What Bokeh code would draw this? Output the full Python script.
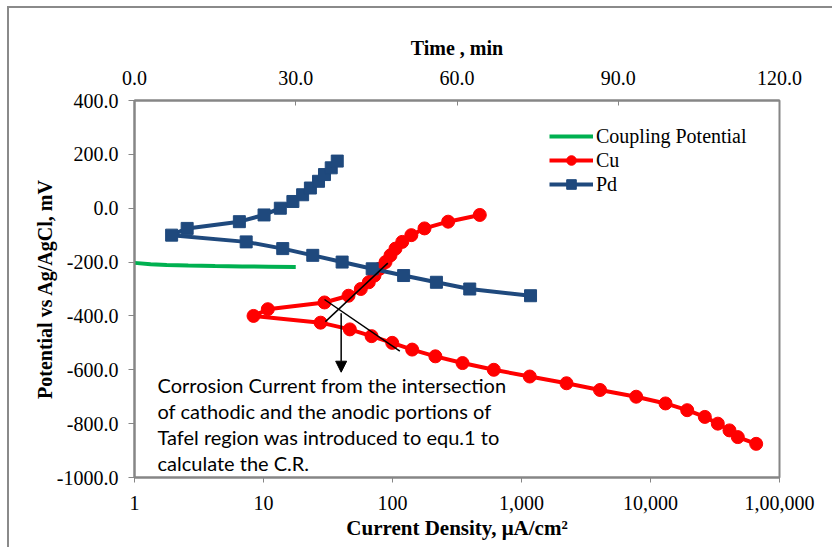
from bokeh.plotting import figure
from bokeh.models import (Range1d, LinearAxis, LinearScale, FixedTicker, Legend, LegendItem,
                          Label, Arrow, NormalHead)
from bokeh.embed import file_html
from bokeh.resources import INLINE

# ---- data ----
time_min = [0, 3, 6, 10, 15, 20, 25, 30]
coupling_mv = [-203, -208, -211, -213, -215, -216, -217, -218]

cu_current = [65950, 47500, 40950, 33250, 26370, 19250, 13070, 7745, 4060, 2233,
              1159, 610, 349, 215, 142, 99.5, 68.8, 46.7, 27.7, 8.37,
              10.8, 29.7, 45.6, 56.8, 65.5, 72.5, 79.3, 88.3, 96.5, 105.5,
              119, 140, 177, 270, 475]
cu_potential = [-875, -850, -825, -800, -775, -750, -725, -700, -675, -650,
                -625, -600, -575, -550, -525, -500, -475, -450, -425, -400,
                -375, -350, -325, -300, -275, -250, -225, -200, -175, -150,
                -125, -100, -75, -50, -25]

pd_current = [1175, 397, 219, 122, 69.6, 40.7, 24.1, 14.1, 7.34, 1.94,
              2.56, 6.5, 10.1, 13.5, 16.9, 20.1, 23.1, 26.7, 29.7, 33.5, 37.3]
pd_potential = [-325, -300, -275, -250, -225, -200, -175, -150, -125, -100,
                -75, -50, -25, 0, 25, 50, 75, 100, 125, 150, 175]

# Tafel extrapolation lines (annotation)
tafel_anodic_x = [30.2, 92]
tafel_anodic_y = [-421, -204]
tafel_cathodic_x = [29.7, 114]
tafel_cathodic_y = [-339, -531]
arrow_x = 40
arrow_y = [-390, -609]

x_ticks = [1, 10, 100, 1000, 10000, 100000]
x_tick_labels = ["1", "10", "100", "1,000", "10,000", "1,00,000"]
y_ticks = [-1000, -800, -600, -400, -200, 0, 200, 400]
y_tick_labels = ["-1000.0", "-800.0", "-600.0", "-400.0", "-200.0", "0.0", "200.0", "400.0"]
t_ticks = [0, 30, 60, 90, 120]
t_tick_labels = ["0.0", "30.0", "60.0", "90.0", "120.0"]

note_lines = ["Corrosion Current from the intersection",
              "of cathodic and the anodic portions of",
              "Tafel region was introduced to equ.1 to",
              "calculate the C.R."]

GRAY = "#868686"
SERIF = "Liberation Serif"

p = figure(width=832, height=547, x_axis_type="log",
           x_range=Range1d(1, 100000), y_range=Range1d(-1000, 400),
           output_backend="svg", toolbar_location=None,
           min_border_left=134, min_border_right=53,
           min_border_top=100, min_border_bottom=70)
p.extra_x_ranges = {"time": Range1d(0, 120)}
p.extra_x_scales = {"time": LinearScale()}
p.xgrid.visible = False
p.ygrid.visible = False
p.outline_line_color = GRAY
p.outline_line_width = 2
p.background_fill_color = "white"
p.border_fill_alpha = 0
# outer chart border (left and top edges visible in the reference)
p.styles = {
    "background-color": "white",
    "background-image": "linear-gradient(#8a8a8a, #8a8a8a), linear-gradient(#8a8a8a, #8a8a8a)",
    "background-size": "2px 100%, 100% 2px",
    "background-position": "7px 7px, 7px 6px",
    "background-repeat": "no-repeat",
}

def style_axis(ax):
    ax.axis_line_color = GRAY
    ax.axis_line_width = 2
    ax.major_tick_line_color = GRAY
    ax.major_tick_line_width = 1
    ax.minor_tick_line_color = None
    ax.major_label_text_font = SERIF
    ax.major_label_text_font_size = "20px"
    ax.major_label_text_color = "black"
    ax.axis_label_text_font = SERIF
    ax.axis_label_text_font_size = "20px"
    ax.axis_label_text_font_style = "bold"
    ax.axis_label_text_color = "black"

xa = p.xaxis[0]
style_axis(xa)
xa.ticker = FixedTicker(ticks=x_ticks)
xa.major_label_overrides = dict(zip(x_ticks, x_tick_labels))
xa.major_tick_out = 5
xa.major_tick_in = 0
xa.major_label_standoff = 13
xa.axis_label = "Current Density, \u03bcA/cm\u00b2"
xa.axis_label_text_font_size = "21px"
xa.axis_label_standoff = 3

ya = p.yaxis[0]
style_axis(ya)
ya.ticker = FixedTicker(ticks=y_ticks)
ya.major_label_overrides = dict(zip(y_ticks, y_tick_labels))
ya.major_tick_out = 6
ya.major_tick_in = 0
ya.major_label_standoff = 10
ya.axis_label = "Potential vs Ag/AgCl, mV"
ya.axis_label_standoff = -2

ta = LinearAxis(x_range_name="time")
style_axis(ta)
ta.ticker = FixedTicker(ticks=t_ticks)
ta.major_label_overrides = dict(zip(t_ticks, t_tick_labels))
ta.major_tick_out = 0
ta.major_tick_in = 5
ta.major_label_standoff = 16
ta.axis_label = "Time , min"
ta.axis_label_standoff = 9
p.add_layout(ta, "above")

GREEN = "#00B050"
RED = "#FF0000"
BLUE = "#1F497D"

g = p.line(time_min, coupling_mv, x_range_name="time", line_color=GREEN, line_width=4)

cu_l = p.line(cu_current, cu_potential, line_color=RED, line_width=4)
cu_m = p.scatter(cu_current, cu_potential, marker="circle", size=13,
                 fill_color=RED, line_color=RED)
pd_l = p.line(pd_current, pd_potential, line_color=BLUE, line_width=4)
pd_m = p.scatter(pd_current, pd_potential, marker="square", size=12,
                 fill_color=BLUE, line_color=BLUE)

# annotation lines
p.line(tafel_anodic_x, tafel_anodic_y, line_color="black", line_width=1.5)
p.line(tafel_cathodic_x, tafel_cathodic_y, line_color="black", line_width=1.5)
p.add_layout(Arrow(end=NormalHead(size=11, fill_color="black", line_color="black"),
                   x_start=arrow_x, y_start=arrow_y[0], x_end=arrow_x, y_end=arrow_y[1],
                   line_color="black", line_width=1.5))

for i, t in enumerate(note_lines):
    p.add_layout(Label(x=23, y=93 - 26.3 * i, x_units="screen", y_units="screen",
                       text=t, text_font="Lato", text_font_size="20px",
                       text_color="black", text_baseline="middle", text_align="left"))

legend = Legend(items=[LegendItem(label="Coupling Potential", renderers=[g]),
                       LegendItem(label="Cu", renderers=[cu_l, cu_m]),
                       LegendItem(label="Pd", renderers=[pd_l, pd_m])],
                location=(415, 281))
legend.label_text_font = SERIF
legend.label_text_font_size = "20px"
legend.label_text_color = "black"
legend.glyph_width = 44
legend.glyph_height = 24
legend.label_height = 24
legend.label_standoff = 3
legend.spacing = 0
legend.padding = 0
legend.margin = 0
legend.border_line_color = None
legend.background_fill_alpha = 0
p.add_layout(legend)

open("out.html", "w").write(file_html(p, INLINE))
